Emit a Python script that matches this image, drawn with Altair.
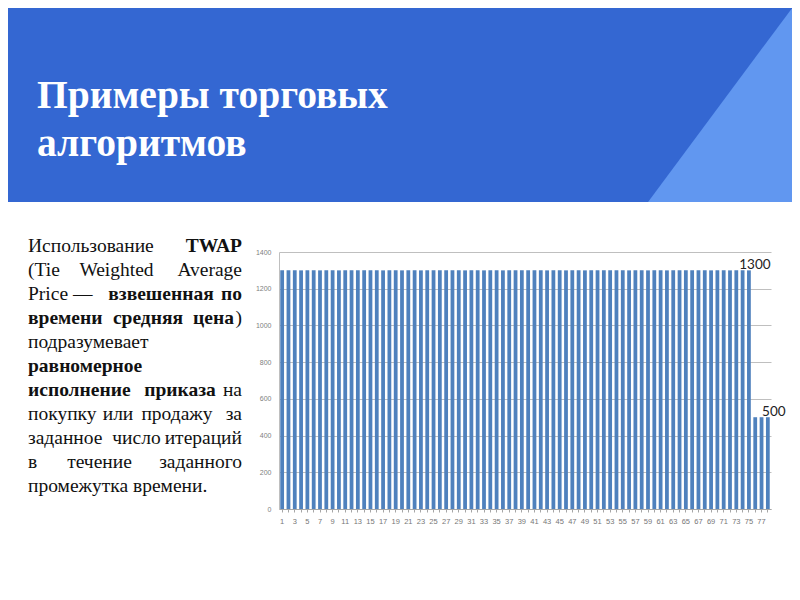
import altair as alt
import pandas as pd

# ---------------- data ----------------
categories = list(range(1, 79))
values = [
    1300, 1300, 1300, 1300, 1300, 1300, 1300, 1300, 1300, 1300,
    1300, 1300, 1300, 1300, 1300, 1300, 1300, 1300, 1300, 1300,
    1300, 1300, 1300, 1300, 1300, 1300, 1300, 1300, 1300, 1300,
    1300, 1300, 1300, 1300, 1300, 1300, 1300, 1300, 1300, 1300,
    1300, 1300, 1300, 1300, 1300, 1300, 1300, 1300, 1300, 1300,
    1300, 1300, 1300, 1300, 1300, 1300, 1300, 1300, 1300, 1300,
    1300, 1300, 1300, 1300, 1300, 1300, 1300, 1300, 1300, 1300,
    1300, 1300, 1300, 1300, 1300, 500, 500, 500,
]
y_ticks = [0, 200, 400, 600, 800, 1000, 1200, 1400]
label_cats = [75, 78]
label_vals = [1300, 500]
label_texts = ["1300", "500"]

title_lines = ["Примеры торговых", "алгоритмов"]

# paragraph words per line: (text, bold)
para_words = [
    [("Использование", False), ("TWAP", True)],
    [("(Tie", False), ("Weighted", False), ("Average", False)],
    [("Price —", False), ("взвешенная", True), ("по", True)],
    [("времени", True), ("средняя", True), ("цена", True), (")", False)],
    [("подразумевает", False)],
    [("равномерное", True)],
    [("исполнение", True), ("приказа", True), ("на", False)],
    [("покупку", False), ("или", False), ("продажу", False), ("за", False)],
    [("заданное", False), ("число", False), ("итераций", False)],
    [("в", False), ("течение", False), ("заданного", False)],
    [("промежутка времени.", False)],
]

# ---------------- layout (page pixel coordinates) ----------------
OX, OY = 279, 252          # page position of the plot origin
PW, PH = 492, 257          # plot area
para_layout = [
    [("left", 28), ("right", 242)],
    [("left", 28), ("center", 116.5), ("right", 242)],
    [("left", 28), ("center", 161), ("right", 242)],
    [("left", 28), ("center", 148), ("right", 234), ("right", 242)],
    [("left", 28)],
    [("left", 28)],
    [("left", 28), ("center", 180), ("right", 242)],
    [("left", 28), ("center", 118), ("center", 177), ("right", 242)],
    [("left", 28), ("center", 136.5), ("right", 242)],
    [("left", 28), ("center", 99.5), ("right", 242)],
    [("left", 28)],
]

one = alt.InlineData(values=[{"k": 0}])

header = alt.Chart(one).mark_rect(color="#3467D2").encode(
    x=alt.value(-OX - 10), x2=alt.value(820 - OX),
    y=alt.value(-OY - 10), y2=alt.value(202 - OY),
)

# triangle as custom symbol: centre (724,101), half-size 101 px
tri_path = "M 0.733 -1 L 0.9 -1 L 0.9 1 L -0.752 1 Z"
triangle = alt.Chart(one).mark_point(
    shape=tri_path, filled=True, fill="#6197F0", opacity=1,
    strokeWidth=0, size=101 * 101 * 4,
).encode(x=alt.value(724 - OX), y=alt.value(101 - OY))

title = alt.Chart(one).mark_text(
    text=title_lines, align="left", baseline="alphabetic",
    font="Liberation Serif", fontSize=39.5, fontWeight="bold",
    color="#FFFFFF", lineHeight=48,
).encode(x=alt.value(37 - OX), y=alt.value(108 - OY))

word_layers = []
for i, (words, lay) in enumerate(zip(para_words, para_layout)):
    yb = 251.5 + 24 * i
    for (txt, bold), (al, xp) in zip(words, lay):
        word_layers.append(
            alt.Chart(one).mark_text(
                text=txt, align=al, baseline="alphabetic",
                font="Liberation Serif", fontSize=19.5,
                fontWeight="bold" if bold else "normal", color="#111111",
            ).encode(x=alt.value(xp - OX), y=alt.value(yb - OY))
        )

x_axis = alt.Axis(
    labelExpr="datum.value % 2 == 1 ? datum.label : ''",
    labelAngle=0, labelFontSize=7.5, labelColor="#777777",
    labelFont="Liberation Sans", labelOverlap=False, labelPadding=5,
    tickColor="#A6A6A6", tickSize=3, domainColor="#A6A6A6", grid=False,
)
y_axis = alt.Axis(
    values=y_ticks, format="d", labelOverlap=False, tickCount=8,
    labelFontSize=7, labelColor="#808080",
    labelFont="Liberation Sans", ticks=False, labelPadding=8,
    domainColor="#BFBFBF", gridColor="#BFBFBF", gridWidth=1,
)
x_scale = alt.Scale(paddingInner=0.4, paddingOuter=0.2)
y_scale = alt.Scale(domain=[0, 1400])

df = pd.DataFrame({"cat": categories, "val": values})
bars = alt.Chart(df).mark_bar(color="#4F81BD").encode(
    x=alt.X("cat:O", title=None, scale=x_scale, axis=x_axis),
    y=alt.Y("val:Q", title=None, scale=y_scale, axis=y_axis),
)

ldf = pd.DataFrame({"cat": label_cats, "val": label_vals, "txt": label_texts})
labels = alt.Chart(ldf).mark_text(
    align="center", baseline="alphabetic", dx=6, dy=-1,
    font="Lato", fontSize=13.5, color="#222222",
).encode(
    x=alt.X("cat:O", title=None, scale=x_scale, axis=x_axis),
    y=alt.Y("val:Q", title=None, scale=y_scale, axis=y_axis),
    text="txt:N",
)

chart = alt.layer(header, triangle, title, *word_layers, bars, labels).properties(
    width=PW, height=PH,
    autosize=alt.AutoSizeParams(type="none"),
    padding={"left": OX - 8, "top": OY - 8, "right": 784 - (OX - 8) - PW, "bottom": 50},
    background="#FFFFFF",
).configure_view(stroke=None)

chart.save("out.html", embed_options={"renderer": "svg", "actions": False})
